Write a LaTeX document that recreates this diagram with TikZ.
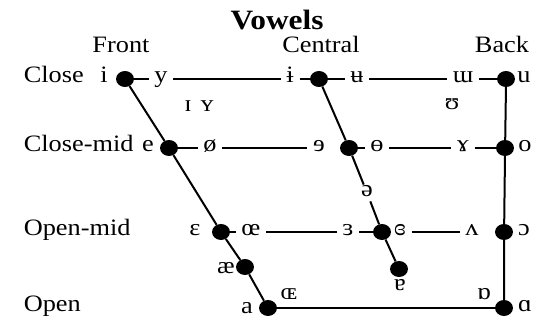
\documentclass[tikz,border=0pt]{standalone}
\usepackage{fontspec}
\setmainfont{Liberation Serif}

\begin{document}
\begin{tikzpicture}[
  x=0.8929pt, y=-1pt, xscale=1.12, transform shape,
  vdot/.style={circle, fill=black, inner sep=0pt, minimum size=16pt},
  sym/.style={font=\fontsize{23.5}{28}\selectfont, inner xsep=5pt, inner ysep=3pt, text height=1.4ex, text depth=0pt},
  rowlab/.style={sym, anchor=west},
  title/.style={font=\fontsize{28}{32}\selectfont\bfseries, inner sep=1pt},
  edge/.style={line width=2pt},
]
  \useasboundingbox (0,0) rectangle (537,324);

  % Heading and column labels
  \node[title] (title) at (277,20) {Vowels};
  \node[sym] (front) at (121,49) {Front};
  \node[sym] (central) at (321,49) {Central};
  \node[sym] (back) at (502,49) {Back};

  % Row labels
  \node[rowlab] (close) at (18,79) {Close};
  \node[rowlab] (closemid) at (18,148) {Close-mid};
  \node[rowlab] (openmid) at (18,232) {Open-mid};
  \node[rowlab] (open) at (18,308) {Open};

  % Dots
  \node[vdot] (dotI) at (125,79) {};
  \node[vdot] (dotCclose) at (319,79) {};
  \node[vdot] (dotU) at (506,79) {};
  \node[vdot] (dotE) at (169,148) {};
  \node[vdot] (dotCmid) at (349,148) {};
  \node[vdot] (dotO) at (505,148) {};
  \node[vdot] (dotEps) at (221,232) {};
  \node[vdot] (dotCopen) at (382,232) {};
  \node[vdot] (dotOpen) at (504,232) {};
  \node[vdot] (dotAe) at (245,267) {};
  \node[vdot] (dotTurnA) at (399,269) {};
  \node[vdot] (dotA) at (268,308) {};
  \node[vdot] (dotAlpha) at (504,308) {};

  % Close vowels
  \node[sym] (i) at (104,79) {i};
  \node[sym] (y) at (161,79) {y};
  \node[sym] (barI) at (290,79) {ɨ};
  \node[sym] (barU) at (357,79) {ʉ};
  \node[sym] (turnM) at (463,79) {ɯ};
  \node[sym] (u) at (524,79) {u};
  \node[sym] (smallI) at (188,108) {ɪ};
  \node[sym] (smallY) at (207,108) {ʏ};
  \node[sym] (upsilon) at (452,106) {ʊ};

  % Close-mid vowels
  \node[sym] (e) at (148,148) {e};
  \node[sym] (oslash) at (210,148) {ø};
  \node[sym] (revE) at (319,148) {ɘ};
  \node[sym] (barO) at (377,148) {ɵ};
  \node[sym] (ramsHorn) at (463,148) {ɤ};
  \node[sym] (o) at (525,148) {o};
  \node[sym, inner sep=5pt] (schwa) at (367,193) {ə};

  % Open-mid vowels
  \node[sym] (eps) at (195,232) {ɛ};
  \node[sym] (oeLig) at (251,232) {œ};
  \node[sym] (revEps) at (348,232) {ɜ};
  \node[sym] (closedRevEps) at (400,232) {ɞ};
  \node[sym] (turnV) at (472,232) {ʌ};
  \node[sym] (openO) at (524,232) {ɔ};
  \node[sym] (ae) at (226,270) {æ};
  \node[sym] (turnA) at (400,287) {ɐ};

  % Open vowels
  \node[sym] (a) at (247,310) {a};
  \node[sym] (capOE) at (289,296) {ɶ};
  \node[sym] (turnAlpha) at (484,296) {ɒ};
  \node[sym] (alpha) at (525,308) {ɑ};

  % Frame of the chart
  \draw[edge] (dotI) -- (dotE) -- (dotEps) -- (dotAe) -- (dotA);
  \draw[edge] (dotCclose) -- (dotCmid) -- (schwa) -- (dotCopen) -- (dotTurnA);
  \draw[edge] (dotU) -- (dotO) -- (dotOpen) -- (dotAlpha);
  \draw[edge] (dotA) -- (dotAlpha);

  % Row lines
  \draw[edge] (dotI) -- (y);
  \draw[edge] (y) -- (barI);
  \draw[edge] (barI) -- (dotCclose);
  \draw[edge] (dotCclose) -- (barU);
  \draw[edge] (barU) -- (turnM);
  \draw[edge] (turnM) -- (dotU);
  \draw[edge] (dotE) -- (oslash);
  \draw[edge] (oslash) -- (revE);
  \draw[edge] (dotCmid) -- (barO);
  \draw[edge] (barO) -- (ramsHorn);
  \draw[edge] (ramsHorn) -- (dotO);
  \draw[edge] (dotEps) -- (oeLig);
  \draw[edge] (oeLig) -- (revEps);
  \draw[edge] (revEps) -- (dotCopen);
  \draw[edge] (dotCopen) -- (closedRevEps);
  \draw[edge] (closedRevEps) -- (turnV);
\end{tikzpicture}
\end{document}
